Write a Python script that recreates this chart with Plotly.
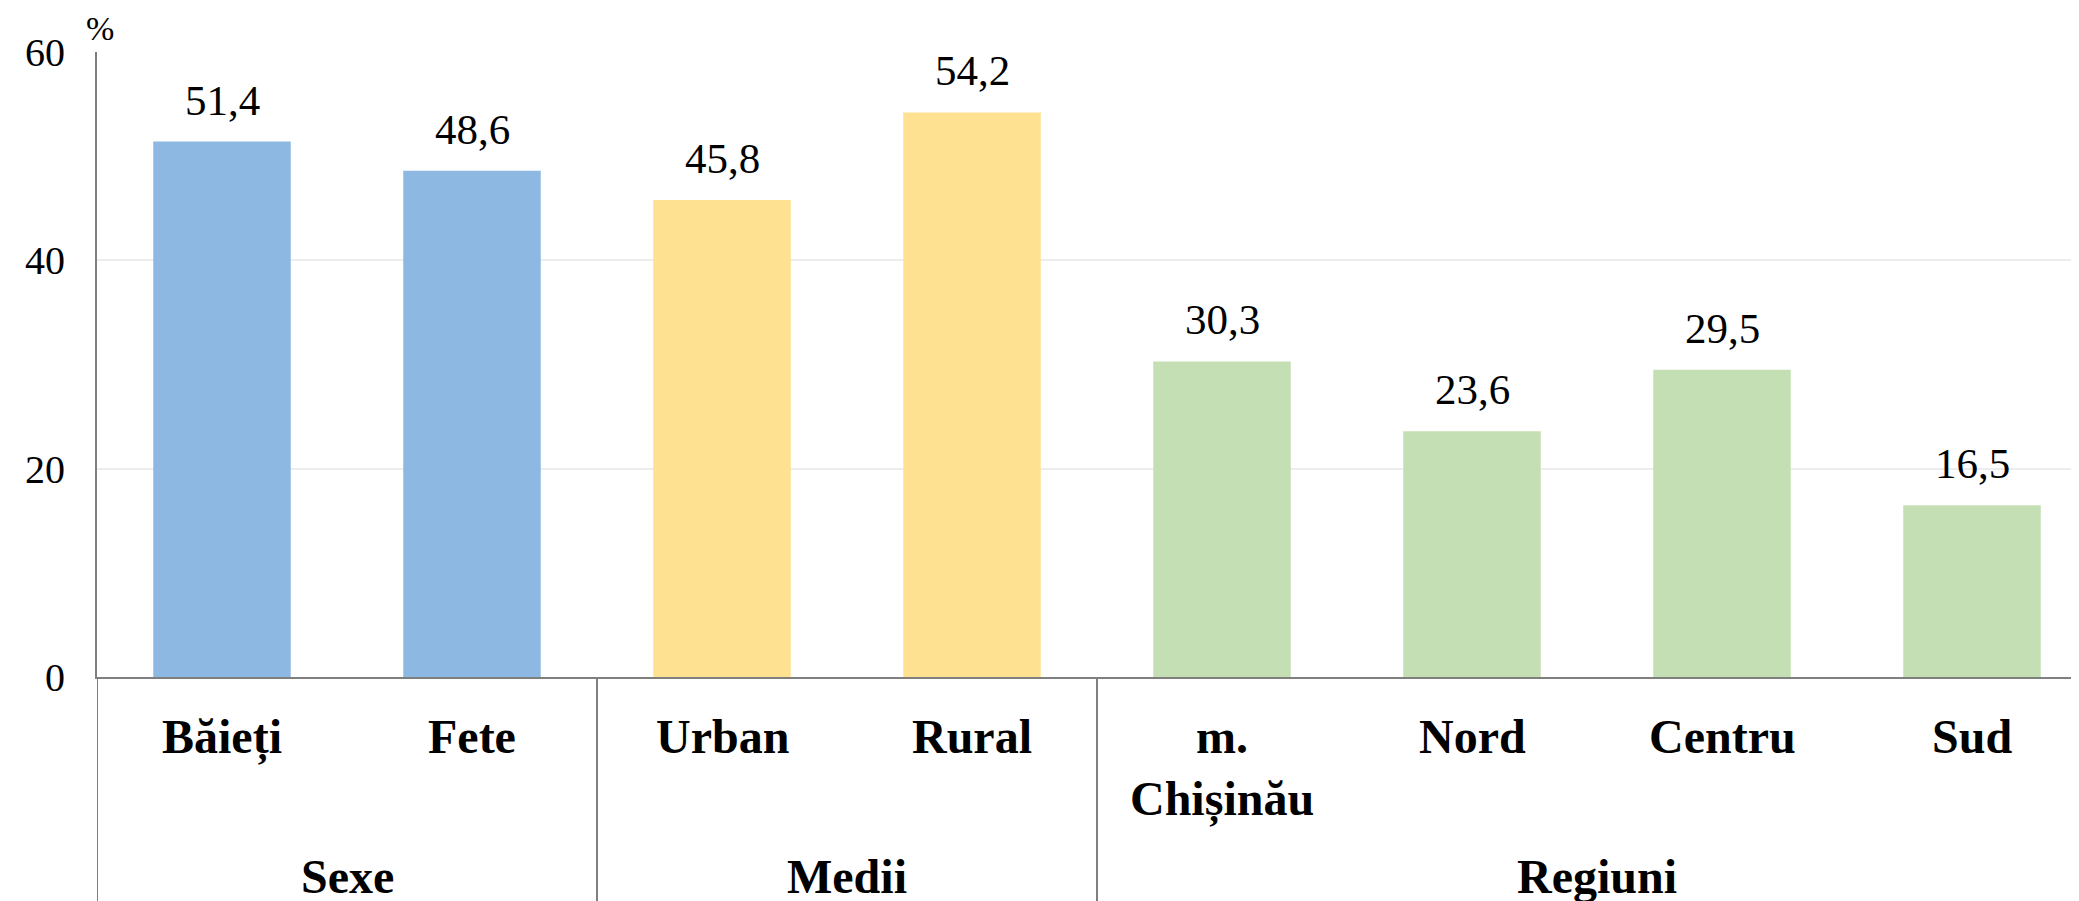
import plotly.graph_objects as go

categories = ["Băieți", "Fete", "Urban", "Rural", "m.<br>Chișinău", "Nord", "Centru", "Sud"]
values = [51.4, 48.6, 45.8, 54.2, 30.3, 23.6, 29.5, 16.5]
value_labels = ["51,4", "48,6", "45,8", "54,2", "30,3", "23,6", "29,5", "16,5"]
groups = ["Sexe", "Medii", "Regiuni"]
group_sizes = [2, 2, 4]
group_colors = ["#8DB8E2", "#FEE292", "#C4DFB3"]
y_ticks = [0, 20, 40, 60]

FONT = "Liberation Serif, Times New Roman, serif"
OFF = 8  # page body margin
W, H = 2079 - OFF, 901 - OFF
ML, MT, MB = 97 - OFF, 52 - OFF, 224
plot_h = H - MT - MB
plot_w = W - ML
x_units = plot_w / 250.0

bar_colors = []
group_centers = []
start = 0
for g, n, c in zip(groups, group_sizes, group_colors):
    bar_colors += [c] * n
    group_centers.append(start + (n - 1) / 2)
    start += n
separators = []
acc = 0
for n in group_sizes[:-1]:
    acc += n
    separators.append(acc - 0.5)

xs = list(range(len(categories)))
fig = go.Figure(go.Bar(x=xs, y=values, marker=dict(color=bar_colors, line=dict(width=0)),
                       width=0.55, hoverinfo="skip"))

ann = []
for x, v, t in zip(xs, values, value_labels):
    ann.append(dict(x=x, y=v, xref="x", yref="y", text=t, showarrow=False,
                    yanchor="bottom", yshift=16,
                    font=dict(family=FONT, size=43, color="#000")))
for x, c in zip(xs, categories):
    ann.append(dict(x=x, y=0, xref="x", yref="y", text="<b>" + c + "</b>", showarrow=False,
                    yanchor="top", yshift=-31,
                    font=dict(family=FONT, size=48, color="#000")))
for x, g in zip(group_centers, groups):
    ann.append(dict(x=x, y=0, xref="x", yref="y", text="<b>" + g + "</b>", showarrow=False,
                    yanchor="top", yshift=-171,
                    font=dict(family=FONT, size=48, color="#000")))
ann.append(dict(x=3 / plot_w, y=1 + 24 / plot_h, xref="paper", yref="paper", text="%",
                showarrow=False, xanchor="center", yanchor="middle",
                font=dict(family=FONT, size=34, color="#000")))

shapes = []
for sx in [-0.5] + separators:
    shapes.append(dict(type="line", xref="x", yref="paper", x0=sx, x1=sx, y0=0,
                       y1=-(MB + 5) / plot_h, line=dict(color="#7f7f7f", width=2)))

fig.update_layout(
    width=W, height=H,
    margin=dict(l=ML, r=0, t=MT, b=MB),
    paper_bgcolor="white", plot_bgcolor="white",
    showlegend=False,
    annotations=ann, shapes=shapes,
    xaxis=dict(range=[-0.5, -0.5 + x_units], showticklabels=False, showgrid=False,
               zeroline=False, showline=True, linecolor="#7f7f7f", linewidth=2, ticks=""),
    yaxis=dict(range=[0, 60], tickvals=y_ticks, ticktext=[str(t) for t in y_ticks],
               showgrid=True, gridcolor="#EDEDED", gridwidth=2, zeroline=False,
               showline=True, linecolor="#7f7f7f", linewidth=2, ticks="",
               ticklabelstandoff=22,
               tickfont=dict(family=FONT, size=40, color="#000")),
)

fig.write_html("out.html")
